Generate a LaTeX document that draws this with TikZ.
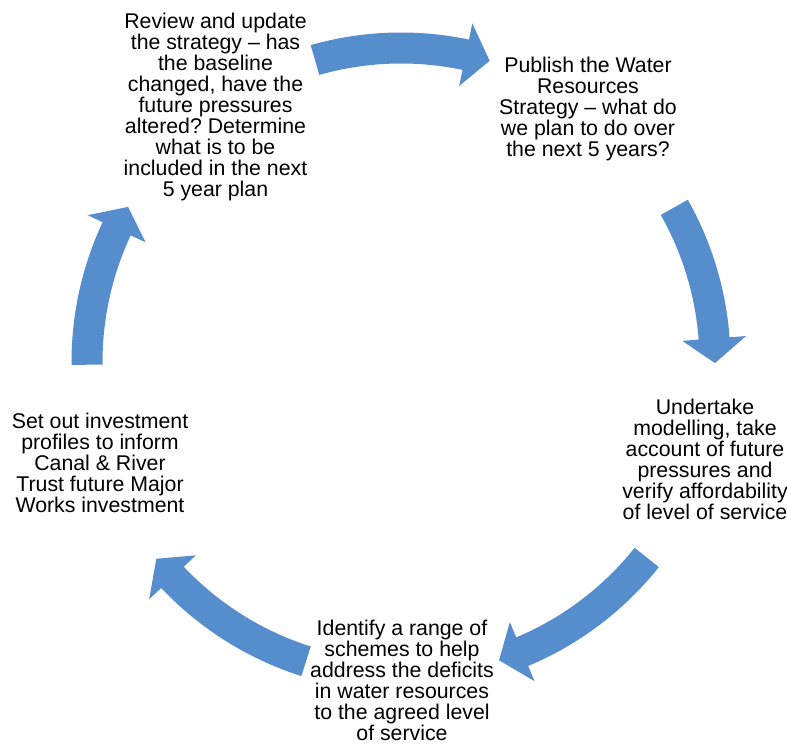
\documentclass[tikz,border=0pt]{standalone}
\usepackage{fontspec}
\setmainfont{Liberation Sans}
\usetikzlibrary{calc}
\frenchspacing
\definecolor{arrowblue}{RGB}{86,141,204}
\newcommand\cycarrow[2]{% #1 tail angle, #2 tip angle
  \pgfmathsetmacro\backang{#2+4.5}
  \fill[arrowblue] ($(ctr)+(#1:329.5)$) arc[start angle=#1, end angle=\backang, radius=329.5pt]
    -- ($(ctr)+(\backang:346)$) -- ($(ctr)+(#2:314)$) -- ($(ctr)+(\backang:282)$)
    -- ($(ctr)+(\backang:298.5)$) arc[start angle=\backang, end angle=#1, radius=298.5pt] -- cycle;
}
\begin{document}
\begin{tikzpicture}[x=1pt,y=1pt,
  steptext/.style={anchor=north, inner sep=0pt, align=center, text=black,
    font=\fontsize{21.3}{21}\selectfont\frenchspacing}]
\useasboundingbox (0,0) rectangle (787,746);
\coordinate (ctr) at (401,384);
\cycarrow{105.9}{73.6}
\cycarrow{29.5}{-0.2}
\cycarrow{-38.5}{-71.8}
\cycarrow{-107.6}{-141.2}
\cycarrow{180.5}{150.4}
\node[steptext] (t1) at (215.5,733.5) {Review and update\\the strategy -- has\\the baseline\\changed, have the\\future pressures\\altered? Determine\\what is to be\\included in the next\\5 year plan};
\node[steptext] (t2) at (588,689.3) {Publish the Water\\Resources\\Strategy -- what do\\we plan to do over\\the next 5 years?};
\node[steptext] (t3) at (705,347) {Undertake\\modelling, take\\account of future\\pressures and\\verify affordability\\of level of service};
\node[steptext] (t4) at (402,126) {Identify a range of\\schemes to help\\address the deficits\\in water resources\\to the agreed level\\of service};
\node[steptext] (t5) at (100,333.3) {Set out investment\\profiles to inform\\Canal \& River\\Trust future Major\\Works investment};
\end{tikzpicture}
\end{document}
